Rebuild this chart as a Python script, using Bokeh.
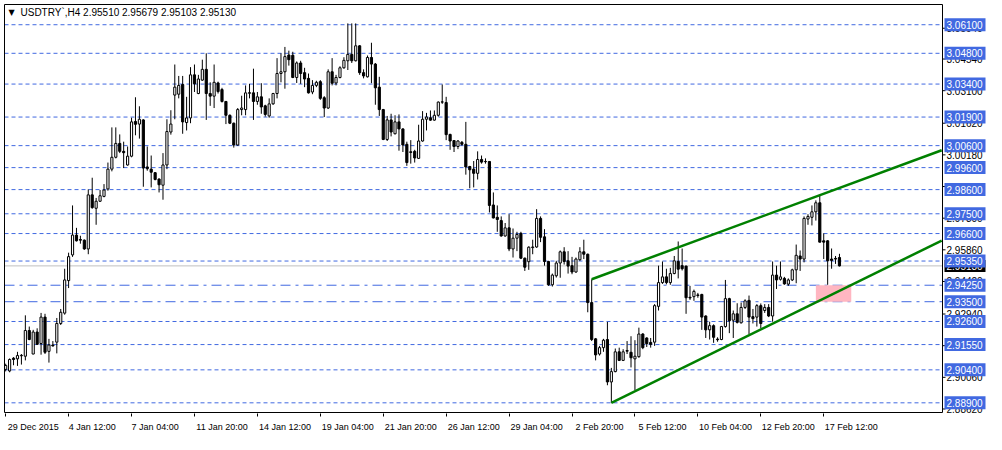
from bokeh.plotting import figure
from bokeh.models import Range1d, FixedTicker, Label, ColumnDataSource, BoxAnnotation
from bokeh.core.properties import value
from bokeh.embed import file_html
from bokeh.resources import INLINE

# ---------------- data (USDTRY H4) ----------------
opens = [
    2.9042, 2.9035, 2.9093, 2.9090, 2.9104, 2.9102, 2.9219, 2.9112, 2.9212, 2.9160,
    2.9280, 2.9124, 2.9153, 2.9166, 2.9251, 2.9298, 2.9446, 2.9563, 2.9653, 2.9633,
    2.9630, 2.9590, 2.9836, 2.9775, 2.9807, 2.9829, 2.9863, 2.9953, 3.0007, 3.0070,
    3.0034, 2.9972, 3.0012, 3.0170, 3.0158, 3.0177, 2.9963, 2.9953, 2.9937, 2.9908,
    2.9880, 2.9972, 3.0122, 3.0290, 3.0294, 3.0338, 3.0165, 3.0186, 3.0382, 3.0297,
    3.0358, 3.0407, 3.0297, 3.0285, 3.0345, 3.0315, 3.0261, 3.0198, 3.0162, 3.0063,
    3.0224, 3.0224, 3.0298, 3.0300, 3.0261, 3.0282, 3.0241, 3.0195, 3.0250, 3.0297,
    3.0388, 3.0396, 3.0472, 3.0471, 3.0370, 3.0436, 3.0392, 3.0366, 3.0304, 3.0334,
    3.0351, 3.0278, 3.0231, 3.0396, 3.0345, 3.0370, 3.0414, 3.0446, 3.0475, 3.0446,
    3.0514, 3.0392, 3.0373, 3.0461, 3.0431, 3.0326, 3.0224, 3.0088, 3.0177, 3.0114,
    3.0168, 3.0136, 3.0066, 3.0032, 3.0034, 3.0002, 3.0081, 3.0180, 3.0187, 3.0176,
    3.0198, 3.0258, 3.0256, 3.0111, 3.0083, 3.0056, 3.0075, 3.0066, 2.9965, 2.9953,
    2.9934, 2.9997, 2.9988, 2.9988, 2.9790, 2.9734, 2.9719, 2.9649, 2.9686, 2.9590,
    2.9639, 2.9661, 2.9548, 2.9532, 2.9596, 2.9599, 2.9729, 2.9645, 2.9533, 2.9427,
    2.9468, 2.9526, 2.9577, 2.9536, 2.9514, 2.9485, 2.9541, 2.9577, 2.9566, 2.9346,
    2.9181, 2.9112, 2.9141, 2.9178, 2.8985, 2.9032, 2.9122, 2.9083, 2.9128, 2.9120,
    2.9090, 2.9100, 2.9203, 2.9185, 2.9165, 2.9166, 2.9329, 2.9437, 2.9463, 2.9437,
    2.9478, 2.9533, 2.9514, 2.9512, 2.9370, 2.9373, 2.9381, 2.9383, 2.9285, 2.9222,
    2.9241, 2.9180, 2.9178, 2.9237, 2.9364, 2.9266, 2.9295, 2.9254, 2.9324, 2.9356,
    2.9282, 2.9280, 2.9332, 2.9310, 2.9324, 2.9285, 2.9471, 2.9452, 2.9456, 2.9430,
    2.9449, 2.9495, 2.9558, 2.9544, 2.9726, 2.9734, 2.9759, 2.9800, 2.9627, 2.9627,
    2.9544, 2.9547, 2.95510,
]
highs = [
    2.9068, 2.9092, 2.9098, 2.9122, 2.9112, 2.9288, 2.9237, 2.9222, 2.9229, 2.9299,
    2.9295, 2.9181, 2.9171, 2.9276, 2.9317, 2.9500, 2.9573, 2.9788, 2.9686, 2.9650,
    2.9633, 2.9861, 2.9914, 2.9822, 2.9858, 2.9885, 2.9983, 3.0143, 3.0143, 3.0111,
    3.0078, 3.0056, 3.0187, 3.0280, 3.0239, 3.0180, 3.0056, 3.0015, 2.9940, 2.9911,
    3.0026, 3.0180, 3.0221, 3.0429, 3.0377, 3.0377, 3.0282, 3.0417, 3.0429, 3.0382,
    3.0451, 3.0480, 3.0348, 3.0429, 3.0351, 3.0323, 3.0263, 3.0202, 3.0165, 3.0231,
    3.0287, 3.0334, 3.0341, 3.0410, 3.0304, 3.0344, 3.0246, 3.0275, 3.0300, 3.0458,
    3.0480, 3.0509, 3.0492, 3.0487, 3.0443, 3.0446, 3.0414, 3.0388, 3.0358, 3.0355,
    3.0358, 3.0285, 3.0407, 3.0458, 3.0382, 3.0421, 3.0462, 3.0616, 3.0616, 3.0616,
    3.0517, 3.0407, 3.0470, 3.0528, 3.0436, 3.0373, 3.0227, 3.0195, 3.0205, 3.0198,
    3.0202, 3.0139, 3.0078, 3.0085, 3.0041, 3.0155, 3.0217, 3.0209, 3.0220, 3.0220,
    3.0261, 3.0338, 3.0282, 3.0114, 3.0085, 3.0085, 3.0081, 3.0168, 2.9968, 2.9990,
    3.0034, 3.0015, 3.0002, 2.9990, 2.9847, 2.9788, 2.9738, 2.9708, 2.9748, 2.9683,
    2.9668, 2.9668, 2.9551, 2.9602, 2.9632, 2.9771, 2.9738, 2.9680, 2.9536, 2.9478,
    2.9536, 2.9583, 2.9598, 2.9580, 2.9554, 2.9551, 2.9598, 2.9632, 2.9569, 2.9452,
    2.9185, 2.9149, 2.9181, 2.9258, 2.9049, 2.9137, 2.9141, 2.9134, 2.9171, 2.9193,
    2.9175, 2.9232, 2.9207, 2.9188, 2.9185, 2.9339, 2.9514, 2.9533, 2.9500, 2.9504,
    2.9558, 2.9624, 2.9592, 2.9514, 2.9422, 2.9405, 2.9390, 2.9386, 2.9288, 2.9259,
    2.9247, 2.9188, 2.9240, 2.9449, 2.9368, 2.9310, 2.9343, 2.9346, 2.9361, 2.9378,
    2.9317, 2.9339, 2.9342, 2.9339, 2.9339, 2.9533, 2.9514, 2.9533, 2.9463, 2.9456,
    2.9500, 2.9610, 2.9583, 2.9738, 2.9748, 2.9788, 2.9811, 2.9836, 2.9661, 2.9630,
    2.9592, 2.9558, 2.95679,
]
lows = [
    2.9033, 2.9029, 2.9061, 2.9058, 2.9064, 2.9083, 2.9175, 2.9111, 2.9153, 2.9109,
    2.9112, 2.9073, 2.9146, 2.9115, 2.9244, 2.9291, 2.9412, 2.9554, 2.9624, 2.9614,
    2.9586, 2.9566, 2.9773, 2.9700, 2.9804, 2.9825, 2.9855, 2.9943, 3.0002, 3.0026,
    2.9958, 2.9969, 3.0007, 3.0107, 3.0092, 2.9873, 2.9946, 2.9870, 2.9902, 2.9847,
    2.9814, 2.9953, 3.0110, 3.0180, 3.0275, 3.0114, 3.0129, 3.0162, 3.0304, 3.0294,
    3.0355, 3.0177, 3.0241, 3.0231, 3.0297, 3.0256, 3.0158, 3.0158, 3.0051, 3.0060,
    3.0198, 3.0198, 3.0275, 3.0177, 3.0246, 3.0205, 3.0192, 3.0187, 3.0246, 3.0275,
    3.0348, 3.0319, 3.0424, 3.0367, 3.0345, 3.0341, 3.0326, 3.0297, 3.0294, 3.0326,
    3.0268, 3.0190, 3.0227, 3.0334, 3.0334, 3.0366, 3.0410, 3.0404, 3.0436, 3.0443,
    3.0382, 3.0366, 3.0370, 3.0344, 3.0246, 3.0195, 3.0085, 3.0081, 3.0102, 3.0111,
    3.0037, 3.0031, 2.9968, 2.9978, 2.9983, 3.0000, 3.0078, 3.0129, 3.0173, 3.0173,
    3.0192, 3.0250, 3.0085, 3.0041, 3.0031, 3.0044, 3.0060, 2.9928, 2.9866, 2.9870,
    2.9906, 2.9978, 2.9978, 2.9756, 2.9729, 2.9668, 2.9646, 2.9646, 2.9580, 2.9551,
    2.9580, 2.9544, 2.9490, 2.9495, 2.9566, 2.9595, 2.9621, 2.9514, 2.9422, 2.9419,
    2.9460, 2.9459, 2.9519, 2.9478, 2.9475, 2.9482, 2.9536, 2.9544, 2.9302, 2.9171,
    2.9083, 2.9105, 2.9122, 2.8970, 2.8890, 2.9029, 2.9080, 2.9080, 2.9112, 2.9051,
    2.8948, 2.9095, 2.9134, 2.9144, 2.9141, 2.9149, 2.9310, 2.9431, 2.9429, 2.9427,
    2.9475, 2.9456, 2.9492, 2.9295, 2.9358, 2.9354, 2.9368, 2.9222, 2.9185, 2.9178,
    2.9163, 2.9168, 2.9175, 2.9232, 2.9207, 2.9185, 2.9251, 2.9251, 2.9317, 2.9203,
    2.9251, 2.9237, 2.9229, 2.9299, 2.9280, 2.9259, 2.9408, 2.9446, 2.9427, 2.9422,
    2.9444, 2.9434, 2.9490, 2.9529, 2.9700, 2.9697, 2.9719, 2.9620, 2.9544, 2.9427,
    2.9500, 2.9522, 2.95103,
]
closes = [
    2.9060, 2.9087, 2.9087, 2.9105, 2.9106, 2.9219, 2.9178, 2.9212, 2.9156, 2.9280,
    2.9120, 2.9153, 2.9149, 2.9251, 2.9302, 2.9449, 2.9555, 2.9653, 2.9627, 2.9630,
    2.9590, 2.9836, 2.9778, 2.9807, 2.9832, 2.9858, 2.9953, 3.0007, 3.0070, 3.0034,
    3.0028, 3.0012, 3.0168, 3.0157, 3.0180, 2.9958, 2.9955, 2.9939, 2.9906, 2.9882,
    2.9972, 3.0124, 3.0158, 3.0326, 3.0334, 3.0168, 3.0186, 3.0382, 3.0341, 3.0363,
    3.0407, 3.0297, 3.0285, 3.0348, 3.0306, 3.0261, 3.0198, 3.0162, 3.0063, 3.0224,
    3.0231, 3.0300, 3.0301, 3.0261, 3.0282, 3.0236, 3.0202, 3.0250, 3.0297, 3.0388,
    3.0396, 3.0465, 3.0451, 3.0370, 3.0436, 3.0388, 3.0363, 3.0300, 3.0334, 3.0348,
    3.0275, 3.0231, 3.0396, 3.0344, 3.0370, 3.0414, 3.0448, 3.0475, 3.0446, 3.0514,
    3.0392, 3.0377, 3.0461, 3.0431, 3.0323, 3.0224, 3.0088, 3.0177, 3.0122, 3.0168,
    3.0136, 3.0063, 2.9983, 3.0029, 3.0004, 3.0081, 3.0180, 3.0190, 3.0176, 3.0198,
    3.0258, 3.0259, 3.0110, 3.0081, 3.0056, 3.0081, 3.0066, 2.9963, 2.9950, 2.9934,
    2.9997, 2.9985, 2.9987, 2.9788, 2.9731, 2.9724, 2.9649, 2.9686, 2.9590, 2.9639,
    2.9656, 2.9548, 2.9507, 2.9598, 2.9599, 2.9729, 2.9643, 2.9533, 2.9427, 2.9471,
    2.9526, 2.9577, 2.9533, 2.9512, 2.9485, 2.9544, 2.9577, 2.9566, 2.9346, 2.9178,
    2.9108, 2.9141, 2.9175, 2.8985, 2.9032, 2.9122, 2.9083, 2.9122, 2.9125, 2.9095,
    2.9102, 2.9203, 2.9141, 2.9159, 2.9156, 2.9332, 2.9437, 2.9463, 2.9437, 2.9478,
    2.9536, 2.9498, 2.9500, 2.9368, 2.9367, 2.9397, 2.9378, 2.9280, 2.9222, 2.9241,
    2.9188, 2.9177, 2.9237, 2.9364, 2.9263, 2.9295, 2.9256, 2.9324, 2.9354, 2.9280,
    2.9273, 2.9332, 2.9251, 2.9324, 2.9285, 2.9471, 2.9449, 2.9463, 2.9431, 2.9449,
    2.9495, 2.9561, 2.9544, 2.9729, 2.9738, 2.9759, 2.9800, 2.9621, 2.9621, 2.9536,
    2.9538, 2.9544, 2.95130,
]

# time axis labels (bar index of each label)
x_label_bars = [0, 16, 32, 48, 64, 80, 96, 112, 128, 144, 160, 176, 192, 208]
x_labels = ["29 Dec 2015", "4 Jan 12:00", "7 Jan 04:00", "11 Jan 20:00", "14 Jan 12:00",
            "19 Jan 04:00", "21 Jan 20:00", "26 Jan 12:00", "29 Jan 04:00", "2 Feb 20:00",
            "5 Feb 12:00", "10 Feb 04:00", "12 Feb 20:00", "17 Feb 12:00"]

# price scale ticks
y_ticks = [2.8862, 2.9006, 2.9150, 2.9294, 2.9442, 2.9586, 2.9730, 2.9874,
           3.0018, 3.0162, 3.0310, 3.0454, 3.0594]

# horizontal level lines
dash_levels = [3.061, 3.048, 3.034, 3.019, 3.006, 2.996, 2.986, 2.975, 2.966,
               2.9535, 2.926, 2.9155, 2.904, 2.889]
dashdot_levels = [2.9425, 2.935]
bid_price = 2.9513

# trend lines (bar index, price)
upper_x = [149, 238]
upper_y = [2.9452, 3.0039]
lower_x = [154, 238]
lower_y = [2.8890, 2.9628]

# highlighted zone
zone_bars = [206, 215]
zone_prices = [2.935, 2.9425]

title_text = "USDTRY`,H4  2.95510 2.95679 2.95103 2.95130"

# ---------------- geometry ----------------
W, H = 986, 434
LEFT, TOP, BOTTOM = 3, 3, 21
FRAME_W = W - LEFT            # frame runs to the right edge (price scale drawn inside)
FRAME_H = H - TOP - BOTTOM
X0, X1 = -0.3, 238.2          # chart area in bars
Y0, Y1 = 2.8846, 3.0702       # chart area in price
CHART_W = 938                 # pixels of the chart area
PPB = CHART_W / (X1 - X0)     # pixels per bar
PPP = (Y1 - Y0) / (FRAME_H - 2)  # price per pixel
XS = X0 - 1 / PPB
XE = XS + FRAME_W / PPB
YS = Y0 - PPP
YE = Y1 + PPP


def px(n):
    return n / PPB


FONT = "Liberation Sans"
SCALE_FS = "10px"

p = figure(width=W, height=H, output_backend="svg", toolbar_location=None, tools="",
           x_range=Range1d(XS, XE), y_range=Range1d(YS, YE),
           y_axis_location=None,
           min_border_left=LEFT, min_border_top=TOP, min_border_right=0,
           min_border_bottom=BOTTOM)
p.background_fill_color = "white"
p.border_fill_color = "white"
p.outline_line_color = None
p.grid.visible = False


def text_w(s, size):
    wd = {" ": 0.278, ":": 0.278, ".": 0.278, "J": 0.5, "a": 0.556, "n": 0.556,
          "D": 0.722, "e": 0.556, "c": 0.5, "F": 0.611, "b": 0.556}
    return sum(wd.get(ch, 0.556) for ch in s) * size


# x axis: minor ticks at the label bars, labels placed to the right of them
XL_SIZE = 9.0
centers = [b + round((2 + text_w(t, XL_SIZE) / 2) / PPB) for b, t in zip(x_label_bars, x_labels)]
xa = p.xaxis[0]
xa.ticker = FixedTicker(ticks=centers, minor_ticks=x_label_bars)
xa.major_label_overrides = {c: t for c, t in zip(centers, x_labels)}
xa.major_tick_line_color = None
xa.minor_tick_in = 0
xa.minor_tick_out = 3
xa.minor_tick_line_color = "black"
xa.axis_line_color = None
xa.major_label_standoff = 2
xa.major_label_text_font = FONT
xa.major_label_text_font_size = f"{XL_SIZE}px"
xa.major_label_text_color = "black"

# level lines
p.segment(x0=[X0] * len(dash_levels), y0=dash_levels, x1=[X1] * len(dash_levels), y1=dash_levels,
          line_color="#4169E1", line_dash="4 3", line_width=1, level="underlay")
p.segment(x0=[X0] * len(dashdot_levels), y0=dashdot_levels, x1=[X1] * len(dashdot_levels),
          y1=dashdot_levels, line_color="#4169E1", line_dash="10 5 3 5", line_width=1,
          level="underlay")
p.segment(x0=[X0], y0=[bid_price], x1=[X1], y1=[bid_price], line_color="#C0C0C0",
          line_width=1, level="underlay")

# zone
p.add_layout(BoxAnnotation(left=zone_bars[0], right=zone_bars[1],
                           bottom=zone_prices[0], top=zone_prices[1],
                           fill_color="#FFB6C1", fill_alpha=1.0, line_color=None,
                           level="underlay"))

# candles
n = len(opens)
src = ColumnDataSource(dict(
    x=list(range(n)), h=highs, l=lows,
    top=[max(o, c) for o, c in zip(opens, closes)],
    bot=[min(o, c) for o, c in zip(opens, closes)],
    fill=["white" if c >= o else "black" for o, c in zip(opens, closes)],
))
p.segment(x0="x", y0="h", x1="x", y1="l", source=src, line_color="black", line_width=1)
p.vbar(x="x", width=0.55, top="top", bottom="bot", source=src,
       fill_color="fill", line_color="black", line_width=1)

# trend lines
p.line(upper_x, upper_y, line_color="#008000", line_width=2.5)
p.line(lower_x, lower_y, line_color="#008000", line_width=2.5)

# chart border
p.segment(x0=[X0, X0, X1, X0], y0=[Y0, Y1, Y0, Y0], x1=[X0, X1, X1, X1], y1=[Y1, Y1, Y1, Y0],
          line_color="black", line_width=1)

# price scale: ticks and labels
p.segment(x0=[X1] * len(y_ticks), y0=y_ticks, x1=[X1 + px(3)] * len(y_ticks), y1=y_ticks,
          line_color="black", line_width=1)
p.text(x=[X1 + px(4)] * len(y_ticks), y=y_ticks, text=[f"{v:.5f}" for v in y_ticks],
       text_font=value(FONT), text_font_size=value(SCALE_FS), text_color="black",
       text_align=value("left"), text_baseline=value("middle"))

# current price box
p.rect(x=[X1 + px(22.5)], y=[bid_price], width=41, height=12, width_units="screen",
       height_units="screen", fill_color="black", line_color=None)
p.text(x=[X1 + px(4)], y=[bid_price], text=[f"{bid_price:.5f}"],
       text_font=value(FONT), text_font_size=value(SCALE_FS), text_color="white",
       text_align=value("left"), text_baseline=value("middle"))

# level boxes
lv_all = dash_levels + dashdot_levels
p.rect(x=[X1 + px(22.5)] * len(lv_all), y=lv_all, width=41, height=13, width_units="screen",
       height_units="screen", fill_color="#4169E1", line_color=None)
p.text(x=[X1 + px(4)] * len(lv_all), y=lv_all, text=[f"{v:.5f}" for v in lv_all],
       text_font=value(FONT), text_font_size=value(SCALE_FS), text_color="white",
       text_align=value("left"), text_baseline=value("middle"))

# title
p.add_layout(Label(x=X0, y=Y1, x_offset=7, y_offset=-8, text="\u25bc",
                   text_align="center", text_baseline="middle", text_color="black",
                   text_font="DejaVu Sans", text_font_size="8px"))
p.add_layout(Label(x=X0, y=Y1, x_offset=16, y_offset=-8, text=title_text,
                   text_align="left", text_baseline="middle", text_color="black",
                   text_font=FONT, text_font_size="10px"))

open("out.html", "w").write(file_html(p, INLINE))
